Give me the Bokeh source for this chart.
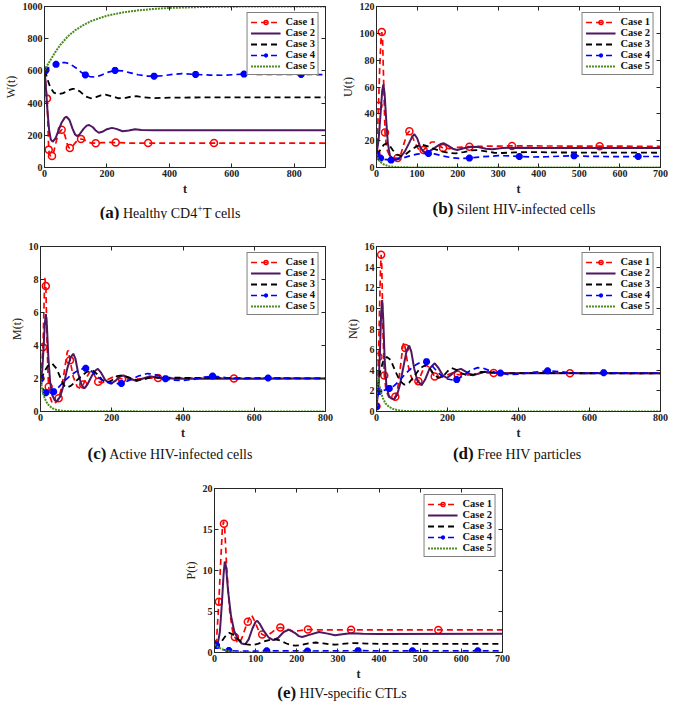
from bokeh.plotting import figure
from bokeh.models import Range1d, FixedTicker, LinearAxis, Legend, LegendItem, Div, Spacer
from bokeh.layouts import column, row
from bokeh.embed import file_html
from bokeh.resources import INLINE

# ------------------------------------------------------------------ data
# (a) W(t)
a_case1 = [(0,600),(3,540),(6,470),(8,428),(10,330),(12,200),(13.5,111),(16,82),(20,72),(24,71),(28,85),(33,125),(40,180),(47,218),(55,234),(60,228),(66,195),(72,150),(77,125),(81,121),(87,125),(95,145),(105,168),(117,177),(125,174),(135,163),(150,151),(164,151),(185,154),(205,156),(228,155),(270,152),(332,152),(900,152)]
a_case2 = [(0,600),(3,540),(6,450),(10,340),(15,230),(20,175),(26,160),(35,180),(45,230),(55,280),(65,310),(71,315),(80,295),(90,240),(98,205),(104,195),(112,205),(125,240),(135,260),(143,264),(155,250),(165,228),(174,216),(185,222),(200,238),(216,246),(230,240),(250,225),(270,230),(290,237),(310,233),(350,231),(400,232),(900,232)]
a_case3 = [(0,600),(5,580),(10,545),(18,500),(30,465),(45,455),(60,462),(75,478),(90,488),(100,488),(115,470),(130,443),(148,430),(165,437),(180,448),(195,452),(215,443),(237,430),(260,433),(280,441),(294,443),(320,436),(351,431),(400,434),(500,435),(900,435)]
a_case4 = [(0,600),(5,606),(10,615),(20,628),(37,641),(50,650),(65,652),(80,645),(100,620),(120,588),(131,575),(145,565),(160,562),(180,572),(200,590),(226,603),(250,600),(275,588),(300,576),(330,568),(351,567),(380,570),(410,578),(440,583),(484,578),(530,574),(570,573),(639,580),(700,578),(822,578),(900,577)]
a_case5 = [(0,600),(10,638),(20,670),(35,718),(50,760),(75,815),(100,855),(125,885),(150,910),(200,943),(250,963),(300,976),(350,985),(400,991),(500,997),(600,999),(700,1000),(900,1000)]
a_mark1 = [(0,600),(8,428),(13.5,111),(24,71),(55,234),(81,121),(117,177),(164,151),(228,155),(332,152),(543,152)]
a_mark4 = [(0,600),(5,606),(37,641),(131,575),(226,603),(351,567),(484,578),(639,580),(822,578)]

# (b) U(t)
b_case1 = [(0,10),(3,30),(5,46),(8,75),(11,95),(13,101),(15,95),(18,60),(21,26),(25,14),(32,9),(40,7),(52,7),(60,10),(68,18),(75,25),(81,27),(86,25),(95,18),(105,13),(116,13),(125,16),(135,19),(145,19),(155,16),(164,14.5),(180,14),(200,15),(229,15.5),(260,15.8),(300,16),(334,16.1),(700,15.8)]
b_case2 = [(0,10),(5,20),(10,40),(14,57),(17,62),(20,55),(24,35),(28,18),(33,9),(40,6),(50,6),(60,8),(70,12),(80,18),(88,23),(93,24.8),(100,22),(108,15),(115,12),(121,11),(130,12),(145,15),(158,17.5),(166,18),(175,16.5),(188,14),(199,13),(215,14.3),(235,15.5),(250,15.3),(270,14),(285,13.6),(310,14.5),(350,14.8),(400,14.5),(700,14.5)]
b_case3 = [(0,10),(5,11),(10,13.5),(18,17),(25,18),(32,16.5),(40,13),(50,9.5),(60,8.6),(70,9.5),(85,13),(100,16),(113,17),(125,16),(140,14),(160,12),(180,10.8),(195,10.5),(215,11.5),(235,12.8),(250,13),(270,12),(290,11),(310,10.8),(340,11.3),(380,11.5),(450,11.2),(700,11)]
b_case4 = [(0,10),(5,8),(10,7),(20,6),(36,5.5),(50,6),(65,7),(80,8.5),(100,10),(115,10.5),(128,10.5),(145,10),(165,8.5),(185,7.3),(205,6.8),(229,7),(260,8),(300,8.8),(330,8.7),(352,8.2),(380,7.8),(420,8),(460,8.5),(487,8.7),(530,8.3),(580,8.1),(645,8.2),(700,8.2)]
b_case5 = [(0,10),(3,7),(6,5.5),(10,4),(15,2.8),(20,2),(30,1),(40,0.5),(60,0.15),(100,0.03),(700,0)]
b_mark1 = [(0,10),(5,46),(13,101),(21,26),(52,7),(81,27),(116,13),(164,14.5),(229,15.5),(334,16.1),(550,15.9)]
b_mark4 = [(0,10),(10,7),(36,5.5),(128,10.5),(229,7),(352,8.2),(487,8.7),(645,8.2)]

# (c) M(t)
c_case1 = [(0,2),(3,2.8),(7,3.9),(10,6.5),(12,8.1),(15,7.6),(18,4.5),(21,2.3),(23,1.5),(28,0.8),(33,0.5),(38,0.45),(45,0.6),(51,0.8),(60,1.5),(68,2.6),(75,3.6),(78,3.7),(83,3.1),(92,2.1),(103,1.5),(112,1.4),(120,1.64),(130,2.1),(140,2.45),(150,2.25),(162,1.8),(175,1.75),(190,1.95),(205,2.1),(229,1.97),(260,1.95),(300,2.02),(330,2.03),(800,2.0)]
c_case2 = [(0,2),(5,2.5),(9,4),(12,5.3),(15,5.9),(18,5.2),(22,3.3),(27,1.8),(33,1.0),(40,0.68),(46,0.61),(55,0.9),(65,1.6),(75,2.6),(85,3.3),(92,3.5),(98,3.2),(106,2.3),(115,1.6),(123,1.4),(132,1.65),(145,2.2),(155,2.5),(161,2.58),(170,2.35),(182,1.9),(197,1.68),(210,1.85),(222,2.1),(233,2.19),(250,2.0),(270,1.85),(288,2.0),(306,2.13),(330,2.05),(380,1.98),(800,2.0)]
c_case3 = [(0,2),(5,2.1),(10,2.4),(20,2.75),(33,2.9),(45,2.6),(55,2.1),(65,1.6),(74,1.45),(85,1.55),(100,1.85),(115,2.15),(130,2.4),(146,2.5),(160,2.25),(172,1.95),(183,1.75),(198,1.85),(215,2.15),(230,2.2),(250,2.05),(270,1.9),(290,1.95),(310,2.08),(340,2.05),(800,2.0)]
c_case4 = [(0,2),(5,1.5),(10,1.2),(15,1.14),(25,1.1),(37,1.2),(50,1.45),(65,1.8),(80,2.1),(95,2.35),(110,2.55),(127,2.62),(140,2.5),(155,2.2),(170,1.95),(190,1.75),(210,1.68),(227,1.7),(250,1.9),(275,2.15),(300,2.3),(320,2.25),(340,2.1),(351,1.99),(370,1.9),(400,1.88),(430,1.95),(460,2.08),(483,2.15),(520,2.05),(560,1.98),(600,2.0),(639,2.03),(800,2.0)]
c_case5 = [(0,2),(5,1.3),(10,0.9),(15,0.65),(20,0.45),(30,0.25),(40,0.12),(60,0.04),(100,0.01),(800,0)]
c_mark1 = [(0,2),(7,3.9),(15,7.6),(23,1.5),(51,0.8),(83,3.1),(120,1.64),(162,1.8),(229,1.97),(330,2.03),(543,2.0)]
c_mark4 = [(0,2),(15,1.14),(37,1.2),(127,2.62),(227,1.7),(351,1.99),(483,2.15),(639,2.03)]

# (d) N(t)
d_case1 = [(0,0.5),(3,2.5),(5.6,5.3),(8,9),(11,13.5),(13,15.2),(15,14),(18,8),(22,3.5),(27,2.0),(35,1.4),(45,1.3),(53,1.42),(60,2.3),(68,4.5),(74,6.3),(77,6.7),(81,6.15),(87,4.8),(95,3.6),(105,2.8),(112,2.7),(118,2.93),(128,3.8),(138,4.5),(148,4.3),(156,3.8),(164,3.4),(180,3.3),(200,3.55),(215,3.75),(229,3.57),(260,3.55),(300,3.75),(330,3.73),(800,3.7)]
d_case2 = [(0,0.5),(5,2),(10,6),(13,9.5),(16,10.8),(19,9),(23,5),(28,2.5),(35,1.5),(42,1.25),(50,1.2),(58,1.6),(66,2.6),(75,4.2),(85,5.9),(92,6.4),(98,5.8),(106,4.2),(115,3.0),(127,2.55),(137,3.1),(150,4.2),(164,4.67),(175,4.2),(187,3.5),(198,3.25),(212,3.6),(225,4.0),(238,4.13),(255,3.8),(272,3.5),(290,3.7),(305,3.85),(330,3.75),(380,3.7),(800,3.72)]
d_case3 = [(0,0.5),(5,2.5),(10,3.8),(18,4.8),(29,5.3),(40,5.0),(52,4.0),(65,3.0),(78,2.6),(92,2.8),(108,3.5),(123,4.2),(138,4.5),(150,4.2),(162,3.6),(175,3.25),(190,3.5),(200,3.9),(212,4.2),(225,4.05),(240,3.7),(258,3.5),(275,3.6),(295,3.85),(320,3.8),(350,3.68),(400,3.72),(800,3.7)]
d_case4 = [(0,0.5),(3,1.5),(6.5,1.93),(15,2.0),(25,2.1),(36,2.24),(50,2.5),(65,3.0),(80,3.6),(95,4.1),(110,4.5),(125,4.8),(141,4.83),(155,4.5),(170,3.9),(185,3.4),(200,3.15),(215,3.05),(226,3.1),(245,3.5),(265,4.0),(285,4.25),(300,4.2),(320,3.95),(335,3.8),(349,3.73),(370,3.6),(400,3.62),(440,3.8),(482,3.94),(520,3.85),(560,3.72),(600,3.7),(640,3.76),(800,3.72)]
d_case5 = [(0,0.5),(1,2.5),(2,3.5),(4,3.3),(7,2.7),(12,1.9),(18,1.3),(25,0.8),(35,0.45),(50,0.2),(70,0.07),(100,0.02),(800,0)]
d_mark1 = [(0,0.5),(5.6,5.3),(13,15.2),(22,3.5),(53,1.42),(81,6.15),(118,2.93),(164,3.4),(229,3.57),(330,3.73),(545,3.7)]
d_mark4 = [(0,0.5),(6.5,1.93),(36,2.24),(141,4.83),(226,3.1),(349,3.73),(482,3.94),(640,3.76)]

# (e) P(t)
e_case1 = [(0,1),(5,1.5),(10.6,6.2),(15,11),(19,15),(22,16),(25,15),(30,10),(37,5),(44,2.6),(49.5,1.9),(55,1.3),(60,1.15),(67,1.8),(75,3.0),(81,3.75),(86,4.4),(90,4.6),(97,3.9),(106,2.8),(116,2.2),(126,2.0),(138,2.4),(150,2.9),(160,3.05),(172,2.9),(190,2.6),(205,2.65),(227,2.8),(260,2.75),(300,2.75),(332,2.76),(700,2.75)]
e_case2 = [(0,1),(8,1.1),(13,2.5),(18,6),(22,9.5),(25,11.1),(28,10.5),(33,7.5),(40,4.5),(48,2.6),(57,1.6),(66,1.1),(75,1.0),(83,1.6),(92,2.9),(100,3.75),(104,3.87),(110,3.5),(120,2.6),(132,1.8),(143,1.5),(155,1.8),(168,2.5),(181,2.8),(195,2.4),(205,2.0),(213,1.9),(230,2.15),(254,2.5),(275,2.3),(293,2.1),(315,2.25),(332,2.35),(360,2.3),(400,2.25),(700,2.3)]
e_case3 = [(0,1),(8,0.85),(15,1.2),(25,1.9),(36,2.4),(45,2.2),(55,1.7),(65,1.3),(78,1.0),(92,0.9),(105,1.05),(120,1.35),(135,1.55),(148,1.6),(160,1.45),(175,1.1),(187,0.9),(197,0.83),(210,0.9),(228,1.1),(246,1.22),(265,1.1),(280,1.0),(295,0.95),(318,1.08),(340,1.15),(370,1.08),(420,1.05),(700,1.05)]
e_case4 = [(0,1),(5,0.85),(10,0.6),(15,0.42),(25,0.3),(35,0.24),(60,0.17),(90,0.17),(127,0.2),(170,0.2),(226,0.18),(280,0.2),(349,0.22),(420,0.2),(481,0.2),(560,0.2),(640,0.2),(700,0.2)]
e_case5 = [(0,1),(5,0.8),(10,0.6),(20,0.38),(30,0.22),(40,0.12),(60,0.05),(100,0.01),(700,0)]
e_mark1 = [(0,1),(10.6,6.2),(23,15.7),(49.5,1.9),(81,3.75),(116,2.2),(160,3.05),(227,2.8),(332,2.76),(544,2.75)]
e_mark4 = [(0,1),(5,0.85),(35,0.24),(127,0.2),(226,0.18),(349,0.22),(481,0.2),(640,0.2)]

case_labels = ["Case 1", "Case 2", "Case 3", "Case 4", "Case 5"]
ticks_x900 = [0, 200, 400, 600, 800]
ticks_x800 = [0, 200, 400, 600, 800]
ticks_x700 = [0, 100, 200, 300, 400, 500, 600, 700]
ticks_w = [0, 200, 400, 600, 800, 1000]
ticks_u = [0, 20, 40, 60, 80, 100, 120]
ticks_m = [0, 2, 4, 6, 8, 10]
ticks_n = [0, 2, 4, 6, 8, 10, 12, 14, 16]
ticks_p = [0, 5, 10, 15, 20]

# ------------------------------------------------------------------ style
RED = "#ff0000"
PUR = "#4e1760"
BLK = "#000000"
BLU = "#0000ff"
GRN = "#4b8b1d"
AX = "#262626"
FONT = "Liberation Serif"


def xs(pairs):
    return [p[0] for p in pairs]


def ys(pairs):
    return [p[1] for p in pairs]


def panel(w, h, bl, br, bt, bb, xr, yr, xt, yt, ylab, cases, m1, m4):
    p = figure(width=w, height=h, x_range=Range1d(*xr), y_range=Range1d(*yr),
               output_backend="svg", toolbar_location=None,
               min_border_left=bl, min_border_right=br, min_border_top=bt, min_border_bottom=bb,
               outline_line_color=AX, outline_line_width=1,
               background_fill_color="white", border_fill_color="white")
    p.grid.visible = False
    p.xaxis.ticker = FixedTicker(ticks=xt)
    p.yaxis.ticker = FixedTicker(ticks=yt)
    for ax in (p.xaxis[0], p.yaxis[0]):
        ax.axis_line_color = AX
        ax.major_tick_line_color = AX
        ax.major_tick_in = 4
        ax.major_tick_out = 0
        ax.minor_tick_line_color = None
        ax.major_label_text_font = FONT
        ax.major_label_text_font_style = "bold"
        ax.major_label_text_font_size = "10px"
        ax.major_label_text_color = "#222222"
        ax.major_label_standoff = 2
        ax.axis_label_text_font = FONT
        ax.axis_label_text_color = "#222222"
    p.xaxis.axis_label = "t"
    p.xaxis.axis_label_text_font_style = "bold"
    p.xaxis.axis_label_text_font_size = "12px"
    p.xaxis.axis_label_standoff = 2
    p.yaxis.axis_label = ylab
    p.yaxis.axis_label_text_font_style = "normal"
    p.yaxis.axis_label_text_font_size = "12px"
    p.yaxis.axis_label_standoff = 2

    # box ticks on top and right
    for place, tk in (("above", xt), ("right", yt)):
        ax = LinearAxis(ticker=FixedTicker(ticks=tk), axis_line_color=AX,
                        major_tick_line_color=AX, major_tick_in=4, major_tick_out=0,
                        minor_tick_line_color=None, major_label_text_color=None,
                        major_label_text_font_size="0px", major_label_standoff=0)
        p.add_layout(ax, place)

    c1, c2, c3, c4, c5 = cases
    r1 = p.line(xs(c1), ys(c1), line_color=RED, line_width=1.7, line_dash="6 4")
    k1 = p.scatter(xs(m1), ys(m1), marker="circle", size=7, fill_color=None,
                   line_color=RED, line_width=1.5)
    r2 = p.line(xs(c2), ys(c2), line_color=PUR, line_width=2)
    r3 = p.line(xs(c3), ys(c3), line_color=BLK, line_width=1.8, line_dash="6 4")
    r4 = p.line(xs(c4), ys(c4), line_color=BLU, line_width=1.7, line_dash="6 4")
    k4 = p.scatter(xs(m4), ys(m4), marker="asterisk", size=7,
                   line_color=BLU, line_width=2.5)
    r5 = p.line(xs(c5), ys(c5), line_color=GRN, line_width=2, line_dash="2 1")

    items = [LegendItem(label=case_labels[0], renderers=[r1, k1]),
             LegendItem(label=case_labels[1], renderers=[r2]),
             LegendItem(label=case_labels[2], renderers=[r3]),
             LegendItem(label=case_labels[3], renderers=[r4, k4]),
             LegendItem(label=case_labels[4], renderers=[r5])]
    lg = Legend(items=items, location="top_right", margin=6, padding=3, spacing=0,
                glyph_width=30, glyph_height=10, label_height=10, label_standoff=5,
                label_text_font=FONT, label_text_font_style="bold",
                label_text_font_size="10.5px", label_text_color="#111111",
                border_line_color="#000000", border_line_width=1,
                background_fill_color="white", background_fill_alpha=1)
    p.add_layout(lg)
    return p


def caption(letter, text, width, height, offset, inner=300):
    html = ("<div style=\"width:%dpx;margin-left:%dpx;text-align:center;white-space:nowrap;"
            "font-family:'Liberation Serif',serif;font-size:14px;line-height:%dpx;color:#111;\">"
            "<b style=\"font-size:17px\">(%s)</b> %s</div>") % (inner, offset, height, letter, text)
    return Div(text=html, width=width, height=height, margin=0)


pa = panel(335, 199, 40, 10, 6, 32, (0, 900), (0, 1000), ticks_x900, ticks_w, "W(t)",
           [a_case1, a_case2, a_case3, a_case4, a_case5], a_mark1, a_mark4)
pb = panel(334, 199, 41, 9, 6, 32, (0, 700), (0, 120), ticks_x700, ticks_u, "U(t)",
           [b_case1, b_case2, b_case3, b_case4, b_case5], b_mark1, b_mark4)
pc = panel(335, 224, 40, 10, 27, 32, (0, 800), (0, 10), ticks_x800, ticks_m, "M(t)",
           [c_case1, c_case2, c_case3, c_case4, c_case5], c_mark1, c_mark4)
pd = panel(334, 224, 41, 9, 27, 32, (0, 800), (0, 16), ticks_x800, ticks_n, "N(t)",
           [d_case1, d_case2, d_case3, d_case4, d_case5], d_mark1, d_mark4)
pe = panel(340, 219, 40, 12, 23, 32, (0, 700), (0, 20), ticks_x700, ticks_p, "P(t)",
           [e_case1, e_case2, e_case3, e_case4, e_case5], e_mark1, e_mark4)

capA = caption("a", "Healthy CD4<sup style=\"font-size:10px\">+</sup>T cells", 335, 20, 20)
capB = caption("b", "Silent HIV-infected cells", 334, 20, 29)
capC = caption("c", "Active HIV-infected cells", 335, 22, 20)
capD = caption("d", "Free HIV particles", 334, 22, 32)
capE = caption("e", "HIV-specific CTLs", 669, 17, 192)

layout = column(
    row(pa, pb),
    row(capA, capB),
    row(pc, pd),
    row(capC, capD),
    row(Spacer(width=174, height=219), pe),
    capE,
)

open("out.html", "w").write(file_html(layout, INLINE))
